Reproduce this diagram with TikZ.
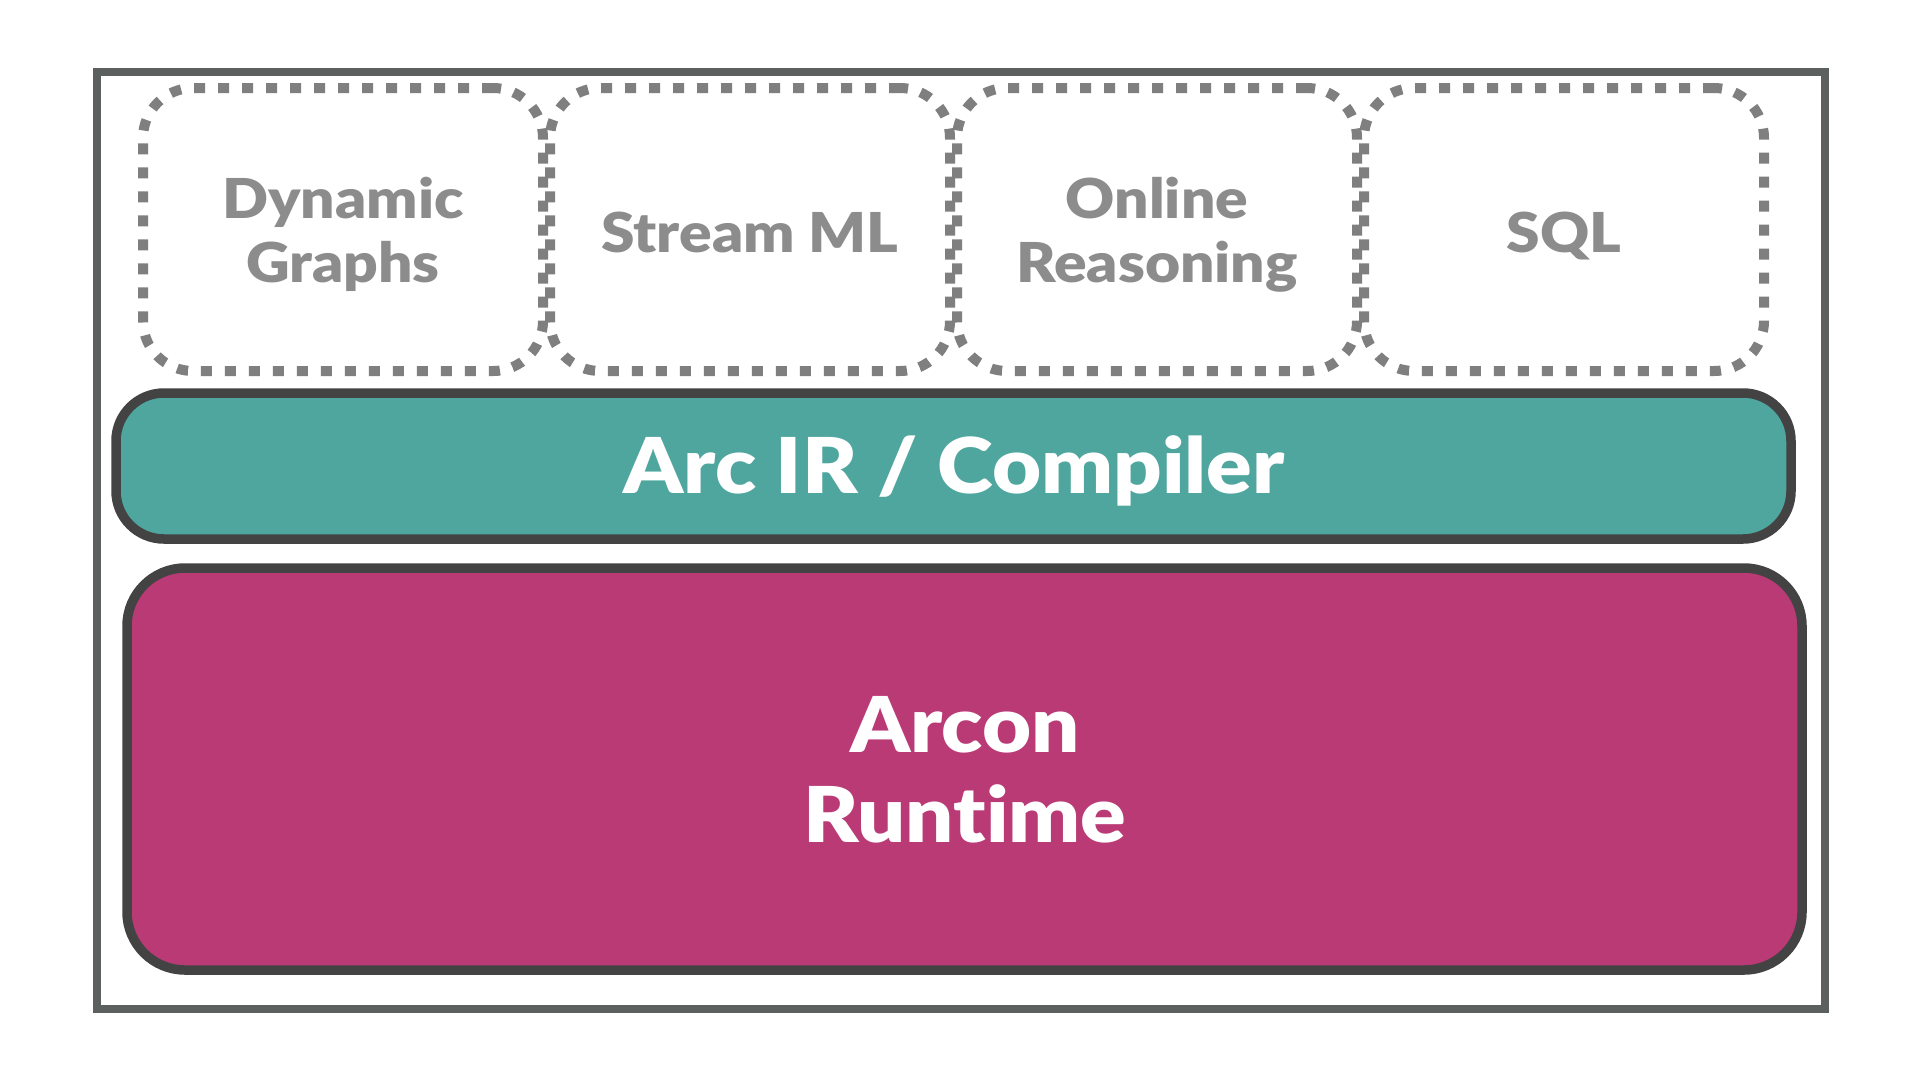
\documentclass[tikz,border=0pt]{standalone}
\usepackage{fontspec}
\setmainfont{Lato}[BoldFont={Lato Black}, BoldFeatures={FakeStretch=1.1, Ligatures=NoCommon}]
\definecolor{framegray}{HTML}{5C615F}
\definecolor{dotgray}{HTML}{7F7F7F}
\definecolor{boxtext}{HTML}{8C8C8C}
\definecolor{tealfill}{HTML}{4EA69E}
\definecolor{magfill}{HTML}{BA3A76}
\definecolor{darkedge}{HTML}{434343}
\begin{document}
\begin{tikzpicture}[x=1pt,y=-1pt,
  dotbox/.style={draw=dotgray, line width=10pt, dash pattern=on 11pt off 13pt,
    rounded corners=50pt, minimum width=400pt, minimum height=283pt,
    inner sep=0pt, outer sep=0pt},
  lbl/.style={font=\bfseries\fontsize{55}{64}\selectfont, text=boxtext, align=center, inner sep=0pt},
  bigl/.style={font=\bfseries\fontsize{77}{90}\selectfont, text=white, align=center, inner sep=0pt},
  layer/.style={draw=darkedge, line width=9.5pt, inner sep=0pt, outer sep=0pt}]
\useasboundingbox (0,0) rectangle (1920,1080);
\fill[white] (0,0) rectangle (1920,1080);
\node[draw=framegray, line width=8pt, minimum width=1728pt, minimum height=937pt, inner sep=0pt] (frame) at (961,540.5) {};
\node[dotbox] (dg) at (343,229.5) {};
\node[dotbox] (sm) at (750,229.5) {};
\node[dotbox] (or) at (1157,229.5) {};
\node[dotbox] (sq) at (1564,229.5) {};
\node[lbl, anchor=base] (dgt) at (343,282) {Dynamic\\Graphs};
\node[lbl, anchor=base] (smt) at (750,252) {Stream ML};
\node[lbl, anchor=base] (ort) at (1157,282) {Online\\Reasoning};
\node[lbl, anchor=base] (sqt) at (1564,252) {SQL};
\node[layer, fill=tealfill, rounded corners=48pt, minimum width=1675pt, minimum height=146pt] (arc) at (953.5,466) {};
\node[bigl, anchor=base] (arct) at (954,493) {Arc IR / Compiler};
\node[layer, fill=magfill, rounded corners=58pt, minimum width=1675pt, minimum height=402pt] (arcon) at (964.5,769) {};
\node[bigl, anchor=base] (arcont) at (965,842) {Arcon\\Runtime};
\end{tikzpicture}
\end{document}
